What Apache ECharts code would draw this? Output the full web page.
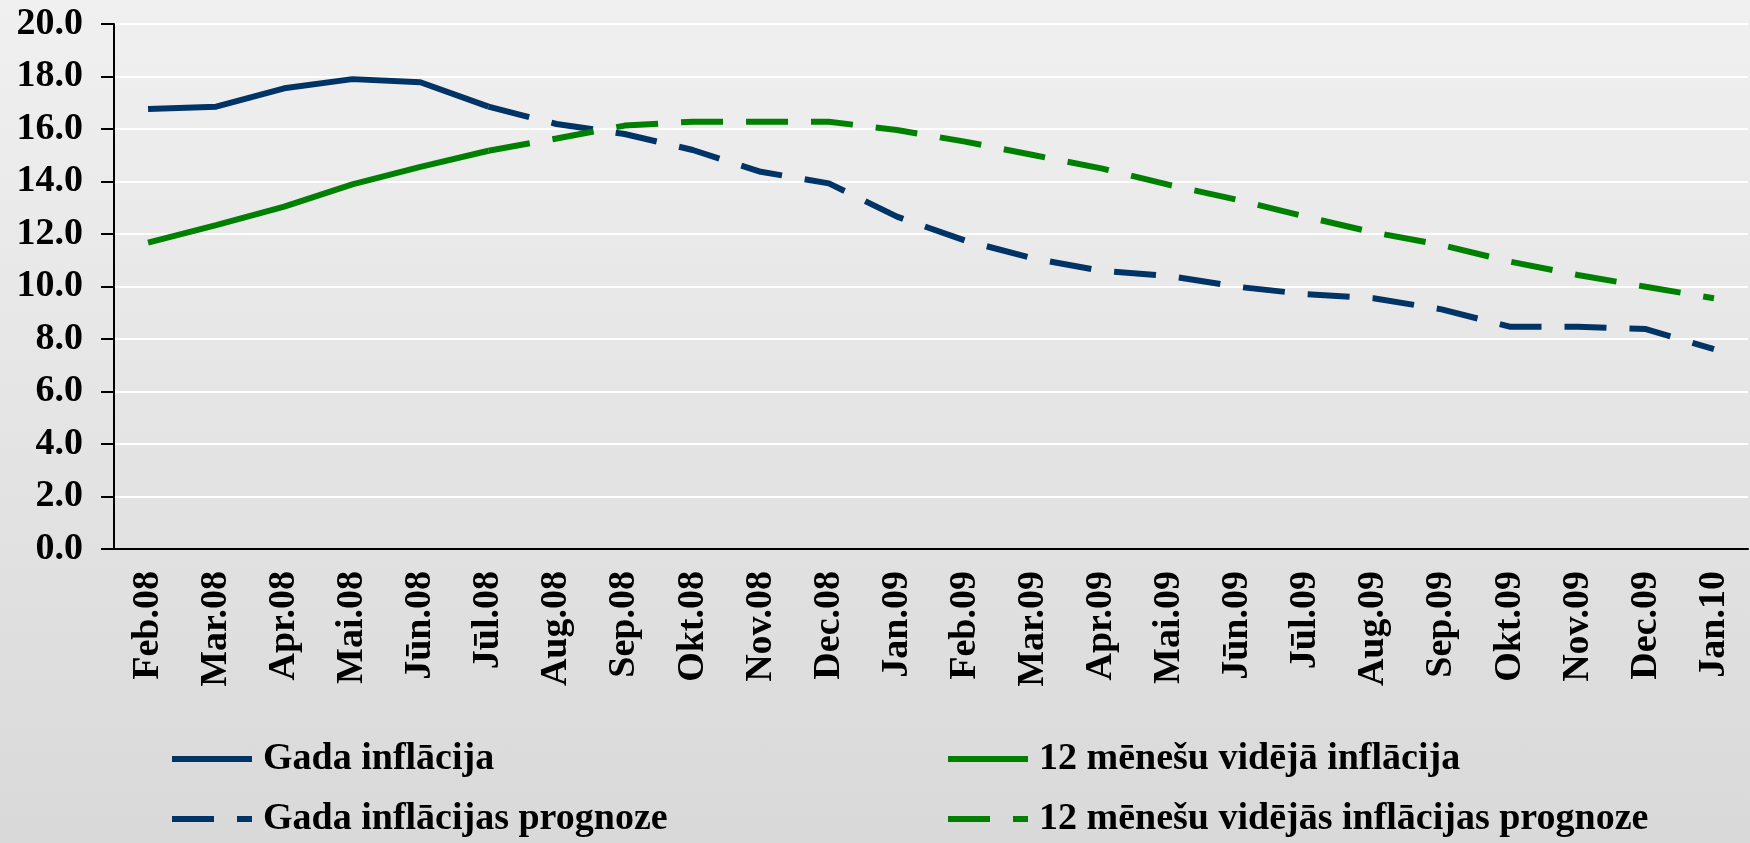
<!DOCTYPE html>
<html>
<head>
<meta charset="utf-8">
<title>Inflācija</title>
<script src="https://cdn.jsdelivr.net/npm/echarts@6/dist/echarts.min.js"></script>
<style>
    html, body { margin: 0; padding: 0; }
    body { background: linear-gradient(to bottom, #f0f0f0 0%, #d9d9d9 100%); }
    #chart { width: 1750px; height: 843px; }
</style>
</head>
<body>
<div id="chart"></div>
<script type="text/javascript">
    var months = ['Feb.08','Mar.08','Apr.08','Mai.08','Jūn.08','Jūl.08','Aug.08','Sep.08','Okt.08','Nov.08','Dec.08','Jan.09',
        'Feb.09','Mar.09','Apr.09','Mai.09','Jūn.09','Jūl.09','Aug.09','Sep.09','Okt.09','Nov.09','Dec.09','Jan.10'];
    //faktiskie dati (Feb.08 - Jūl.08)
    var gadaFakts = [16.76, 16.85, 17.55, 17.9, 17.78, 16.85];
    var videjaFakts = [11.67, 12.34, 13.04, 13.89, 14.56, 15.17];
    //prognoze (Jūl.08 - Jan.10)
    var gadaPrognoze = [16.85, 16.19, 15.81, 15.2, 14.37, 13.93, 12.66, 11.75, 11.07, 10.6, 10.4, 9.99, 9.71, 9.55, 9.13, 8.47, 8.47, 8.38, 7.61];
    var videjaPrognoze = [15.17, 15.64, 16.13, 16.28, 16.28, 16.28, 15.96, 15.52, 15.01, 14.5, 13.87, 13.3, 12.66, 12.06, 11.58, 10.95, 10.44, 9.99, 9.55];
    var yTicks = [0, 20, 2];

    var blue = '#003366';
    var green = '#008000';
    var font = 'Liberation Serif, Times New Roman, serif';

    // pilna garuma rindas ar tukšumiem
    function pad(arr, start) {
        var out = [];
        for (var i = 0; i < months.length; i++) {
            var k = i - start;
            out.push(k >= 0 && k < arr.length ? arr[k] : null);
        }
        return out;
    }

    function legend(left, names) {
        return {
            orient: 'vertical', left: left, top: 740, padding: 0, itemGap: 22,
            itemWidth: 80, itemHeight: 14,
            textStyle: { color: '#000', fontFamily: font, fontWeight: 'bold', fontSize: 38, lineHeight: 38, padding: [0, 0, 0, 6] },
            itemStyle: { opacity: 0 },   // bez apļa leģendā
            lineStyle: { width: 6 },
            data: names
        };
    }

    var myChart = echarts.init(document.getElementById('chart'));

    var option = {
        backgroundColor: 'transparent',
        animation: false,
        grid: { left: 114, right: 2, top: 24, bottom: 294 },
        legend: [
            legend(169, ['Gada inflācija', 'Gada inflācijas prognoze']),
            legend(945, ['12 mēnešu vidējā inflācija', '12 mēnešu vidējās inflācijas prognoze'])
        ],
        xAxis: {
            type: 'category',
            data: months,
            boundaryGap: true,
            axisLine: { lineStyle: { color: '#000', width: 2 } },
            axisTick: { length: 12, lineStyle: { color: '#000', width: 1.5 } },
            axisLabel: { rotate: 90, margin: 22, interval: 0, color: '#000', fontFamily: font, fontWeight: 'bold', fontSize: 38 }
        },
        yAxis: {
            type: 'value',
            min: yTicks[0],
            max: yTicks[1],
            interval: yTicks[2],
            axisLine: { show: true, lineStyle: { color: '#000', width: 2 } },
            axisTick: { show: true, length: 13, lineStyle: { color: '#000', width: 2 } },
            splitLine: { lineStyle: { color: '#ffffff', width: 2 } },
            axisLabel: {
                margin: 31, color: '#000', fontFamily: font, fontWeight: 'bold', fontSize: 38,
                formatter: function (v) { return v.toFixed(1); }
            }
        },
        series: [
            {
                name: 'Gada inflācija', type: 'line', symbol: 'none',
                data: pad(gadaFakts, 0),
                lineStyle: { color: blue, width: 6 }, itemStyle: { color: blue }
            },
            {
                name: 'Gada inflācijas prognoze', type: 'line', symbol: 'none',
                data: pad(gadaPrognoze, 5),
                lineStyle: { color: blue, width: 6, type: [42, 23] }, itemStyle: { color: blue }
            },
            {
                name: '12 mēnešu vidējā inflācija', type: 'line', symbol: 'none',
                data: pad(videjaFakts, 0),
                lineStyle: { color: green, width: 6 }, itemStyle: { color: green }
            },
            {
                name: '12 mēnešu vidējās inflācijas prognoze', type: 'line', symbol: 'none',
                data: pad(videjaPrognoze, 5),
                lineStyle: { color: green, width: 6, type: [42, 23] }, itemStyle: { color: green }
            }
        ]
    };

    myChart.setOption(option, true);
</script>
</body>
</html>
